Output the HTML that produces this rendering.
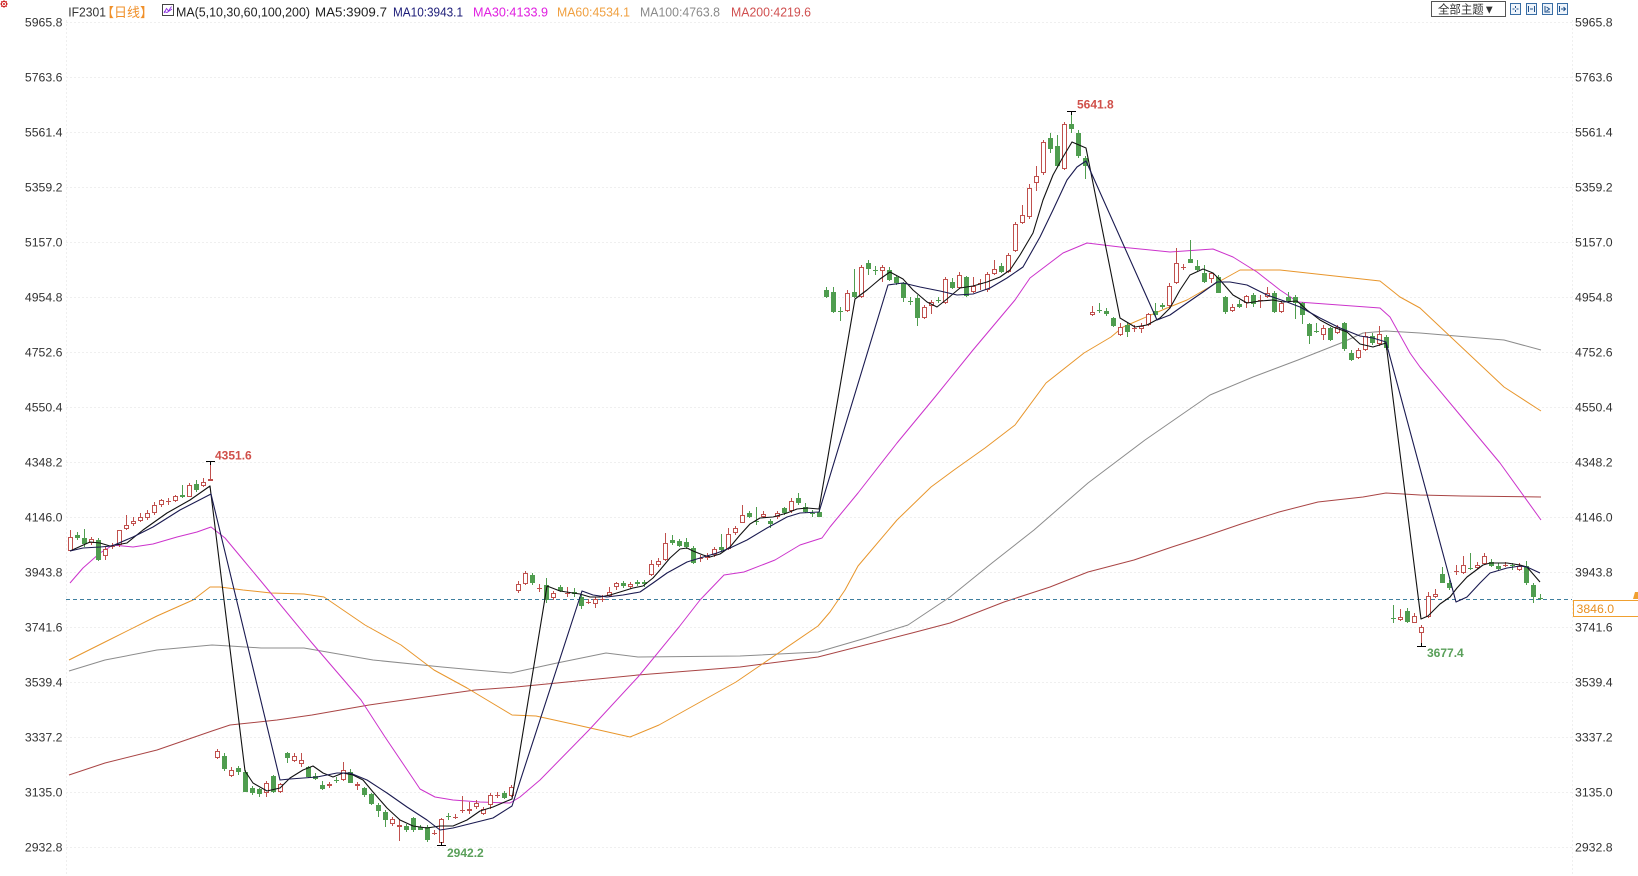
<!DOCTYPE html>
<html><head><meta charset="utf-8"><style>
html,body{margin:0;padding:0;background:#fff;width:1638px;height:876px;overflow:hidden}
svg{display:block}
text{font-family:"Liberation Sans","Noto Sans CJK SC",sans-serif}
</style></head><body>
<svg width="1638" height="876" viewBox="0 0 1638 876" xmlns="http://www.w3.org/2000/svg">
<rect width="1638" height="876" fill="#fff"/>
<g stroke="#efefef" stroke-width="1" stroke-dasharray="2 2" fill="none">
<path d="M66 22.5H1572M66 77.5H1572M66 132.5H1572M66 187.5H1572M66 242.5H1572M66 297.5H1572M66 352.5H1572M66 407.5H1572M66 462.5H1572M66 517.5H1572M66 572.5H1572M66 627.5H1572M66 682.5H1572M66 737.5H1572M66 792.5H1572M66 847.5H1572M66.5 20V876M1572.5 20V876"/>
</g>
<g font-size="12.3" fill="#333" text-anchor="end">
<text x="62.5" y="26.7">5965.8</text><text x="62.5" y="81.7">5763.6</text><text x="62.5" y="136.7">5561.4</text><text x="62.5" y="191.7">5359.2</text><text x="62.5" y="246.7">5157.0</text><text x="62.5" y="301.7">4954.8</text><text x="62.5" y="356.7">4752.6</text><text x="62.5" y="411.7">4550.4</text><text x="62.5" y="466.7">4348.2</text><text x="62.5" y="521.7">4146.0</text><text x="62.5" y="576.7">3943.8</text><text x="62.5" y="631.7">3741.6</text><text x="62.5" y="686.7">3539.4</text><text x="62.5" y="741.7">3337.2</text><text x="62.5" y="796.7">3135.0</text><text x="62.5" y="851.7">2932.8</text>
</g>
<g font-size="12.3" fill="#333">
<text x="1575" y="26.7">5965.8</text><text x="1575" y="81.7">5763.6</text><text x="1575" y="136.7">5561.4</text><text x="1575" y="191.7">5359.2</text><text x="1575" y="246.7">5157.0</text><text x="1575" y="301.7">4954.8</text><text x="1575" y="356.7">4752.6</text><text x="1575" y="411.7">4550.4</text><text x="1575" y="466.7">4348.2</text><text x="1575" y="521.7">4146.0</text><text x="1575" y="576.7">3943.8</text><text x="1575" y="631.7">3741.6</text><text x="1575" y="686.7">3539.4</text><text x="1575" y="741.7">3337.2</text><text x="1575" y="796.7">3135.0</text><text x="1575" y="851.7">2932.8</text>
</g>
<!-- header -->
<g>
<circle cx="4" cy="4" r="2.6" fill="none" stroke="#d02020" stroke-width="1.2"/>
<circle cx="4" cy="4" r="1" fill="#d02020"/>
<path d="M4 0V0.8M4 7.2V8M0 4H0.8M7.2 4H8M1.2 1.2L1.8 1.8M6.8 1.2L6.2 1.8M1.2 6.8L1.8 6.2M6.8 6.8L6.2 6.2" stroke="#d02020" stroke-width="0.8"/>
<text x="68.3" y="16.7" font-size="12.5" fill="#333" textLength="37.7" lengthAdjust="spacingAndGlyphs">IF2301</text>
<text x="101" y="17" font-size="13" fill="#f0902a" textLength="52" lengthAdjust="spacingAndGlyphs">【日线】</text>
<rect x="162.5" y="4.5" width="11" height="11" fill="#fff" stroke="#444" stroke-width="1"/>
<path d="M164 13L166.5 8.5L168.5 11L171.5 6.5M164 11.5L167 12.5L172 9" stroke="#8a2be2" stroke-width="0.9" fill="none"/>
<text x="176" y="16.7" font-size="13" fill="#222" textLength="134" lengthAdjust="spacingAndGlyphs">MA(5,10,30,60,100,200)</text>
<text x="315" y="16.7" font-size="13" fill="#222" textLength="72" lengthAdjust="spacingAndGlyphs">MA5:3909.7</text>
<text x="393" y="16.7" font-size="13" fill="#1c1c78" textLength="70" lengthAdjust="spacingAndGlyphs">MA10:3943.1</text>
<text x="473" y="16.7" font-size="13" fill="#e020e0" textLength="75" lengthAdjust="spacingAndGlyphs">MA30:4133.9</text>
<text x="557" y="16.7" font-size="13" fill="#f0a040" textLength="73" lengthAdjust="spacingAndGlyphs">MA60:4534.1</text>
<text x="640" y="16.7" font-size="13" fill="#8a8a8a" textLength="80" lengthAdjust="spacingAndGlyphs">MA100:4763.8</text>
<text x="731" y="16.7" font-size="13" fill="#d05050" textLength="80" lengthAdjust="spacingAndGlyphs">MA200:4219.6</text>
<rect x="1431.5" y="1.5" width="74" height="15" fill="#fff" stroke="#555"/>
<text x="1438" y="13.5" font-size="12" fill="#333" textLength="57" lengthAdjust="spacingAndGlyphs">全部主题▼</text>
<g fill="#eef4fb" stroke="#3a6ea5" stroke-width="1">
<rect x="1510.5" y="3.5" width="10" height="11"/><rect x="1526.5" y="3.5" width="10" height="11"/><rect x="1542.5" y="3.5" width="10" height="11"/><rect x="1557.5" y="3.5" width="10" height="11"/>
</g>
<path d="M1515.5 6V8M1515.5 10V12M1512.5 9H1514.5M1516.5 9H1518.5M1528.5 6V12M1534.5 6V12M1530 9H1533M1545 6V12H1550M1546.5 7L1549.5 9L1546.5 11M1559.5 6V12M1561 9H1565.5M1563.5 7L1565.5 9L1563.5 11" stroke="#1d4f8a" stroke-width="1" fill="none"/>
</g>
<!-- long MAs -->
<g fill="none" stroke-width="1" stroke-linejoin="round">
<polyline stroke="#a94545" points="69,775 105,763 157,750 212,731 230,725 277,720 312,715 369,705 475,690 516,687 638,675 740,667 818,657 912,633 950,623 1004,602 1050,587 1088,572 1134,560 1172,547 1203,537 1241,524 1279,512 1318,502 1363,497 1386,493 1420,495 1462,496 1541,497"/>
<polyline stroke="#8c8c8c" points="69,671 105,660 157,650 212,645 230,646 261,648 304,648 373,660 442,667 475,670 511,673 557,663 606,653 638,657 740,656 818,652 866,638 908,625 950,597 992,563 1034,530 1088,483 1145,440 1210,395 1253,377 1298,360 1341,343 1363,333 1386,331 1420,333 1504,340 1541,350"/>
<polyline stroke="#e8962c" points="69,660 105,642 157,616 193,600 210,587 220,587 243,590 271,593 304,594 324,597 365,625 401,645 434,670 467,688 512,715 536,716 577,725 630,737 659,725 736,682 818,626 830,612 845,590 858,566 897,520 931,487 954,470 985,448 1015,425 1046,383 1084,353 1111,337 1123,327 1167,308 1187,300 1213,285 1240,270 1280,270 1380,281 1400,297 1420,308 1504,387 1541,411"/>
<polyline stroke="#cc33cc" points="70,583 83,568 100,553 113,545 133,547 153,544 177,537 197,532 211,527 225,538 240,556 260,580 312,643 361,700 385,737 414,780 420,789 435,797 453,800 480,802 510,803 520,797 540,780 589,730 638,677 679,627 700,600 724,575 744,572 775,560 800,545 822,538 830,527 858,493 897,443 935,397 973,350 1015,300 1030,278 1063,253 1087,243 1120,247 1170,252 1213,249 1233,257 1257,272 1280,290 1298,302 1380,308 1390,317 1410,353 1420,367 1460,415 1500,463 1541,520"/>
</g>
<!-- current price dashed -->
<path d="M66 599.5H1572" stroke="#3f7f9f" stroke-width="1" stroke-dasharray="4 3"/>
<!-- candles -->
<g fill="none" stroke-width="1" shape-rendering="crispEdges">
<path stroke="#c0504d" d="M70.5 530V551M91.5 537V545M105.5 547V560M119.5 530V547M126.5 515V530M133.5 517V526M140.5 513V522M147.5 510V520M154.5 502V515M161.5 499V507M175.5 495V502M189.5 483V497M203.5 478V487M210.5 461V481M112.5 543V549M110 546.5h5M168.5 498V505M166 501.5h5
M217.5 749V759M231.5 767V777M266.5 781V797M280.5 783V793M294.5 753V762M301.5 753V767M329.5 782V788M343.5 762V781M357.5 782V790M392.5 817V826M399.5 819V841M441.5 818V845M469.5 802V814M476.5 800V809M483.5 807V815M490.5 793V809M511.5 785V797M434.5 830V835M432 833.5h5M455.5 814V819M453 817.5h5M462.5 796V813M460 810.5h5M497.5 792V798M495 795.5h5
M518.5 581V593M525.5 571V585M553.5 591V600M595.5 597V608M609.5 587V597M616.5 582V590M630.5 582V589M651.5 560V576M658.5 558V567M665.5 533V561M707.5 553V560M714.5 547V557M728.5 528V550M735.5 526V535M742.5 505V523M763.5 511V518M777.5 511V519M791.5 498V513M539.5 584V592M537 588.5h5M567.5 587V597M565 593.5h5M588.5 599V604M586 602.5h5M602.5 595V602M600 599.5h5M700.5 555V562M698 558.5h5
M847.5 290V312M861.5 265V298M882.5 265V282M924.5 305V319M931.5 300V314M945.5 277V304M959.5 272V289M973.5 277V293M987.5 272V292M994.5 260V275M1008.5 253V273M1015.5 222V252M1022.5 205V224M1029.5 184V219M1036.5 166V191M1043.5 140V175M1064.5 122V170M980.5 279V290M978 283.5h5
M1092.5 306V316M1120.5 323V336M1141.5 323V333M1148.5 313V326M1169.5 283V308M1176.5 248V284M1211.5 272V283M1232.5 304V312M1246.5 295V308M1267.5 287V298M1281.5 301V313M1323.5 325V340M1337.5 325V334M1358.5 348V359M1365.5 332V351M1379.5 326V346M1134.5 325V332M1132 328.5h5M1183.5 264V270M1181 267.5h5M1260.5 295V308M1258 300.5h5
M1400.5 609V621M1414.5 613V623M1421.5 625V646M1428.5 592V618M1435.5 589V598M1463.5 556V574M1477.5 562V569M1484.5 553V565M1519.5 563V571M1456.5 565V575M1454 571.5h5M1505.5 562V567M1503 565.5h5"/>
<path stroke="#4f9d4f" d="M77.5 532V540M84.5 529V547M98.5 538V561M182.5 485V498M196.5 480V492
M224.5 753V771M238.5 766V775M245.5 770V792M252.5 786V795M259.5 788V797M273.5 775V793M287.5 752V763M308.5 766V778M315.5 773V780M322.5 781V790M350.5 769V783M364.5 787V797M371.5 793V805M378.5 803V817M385.5 810V827M406.5 824V832M413.5 817V832M420.5 825V830M427.5 825V842M504.5 791V799M336.5 777V783M334 780.5h5M448.5 813V820M446 816.5h5
M532.5 573V585M546.5 578V603M560.5 585V592M574.5 588V597M581.5 595V609M623.5 581V588M637.5 580V586M644.5 580V587M672.5 535V545M679.5 539V547M686.5 538V549M693.5 546V564M721.5 534V552M749.5 511V518M770.5 519V528M784.5 507V515M798.5 493V505M805.5 503V513M819.5 509V517M756.5 507V525M754 521.5h5M812.5 510V517M810 513.5h5
M826.5 287V298M833.5 287V313M854.5 269V298M868.5 260V275M889.5 267V281M896.5 275V285M903.5 282V302M917.5 295V326M952.5 278V289M966.5 276V297M1001.5 263V273M1050.5 133V153M1057.5 135V167M1071.5 111V133M1078.5 130V158M1085.5 156V179M840.5 307V321M838 311.5h5M875.5 266V275M873 270.5h5M910.5 297V305M908 301.5h5M938.5 297V303M936 300.5h5
M1106.5 308V316M1113.5 317V327M1127.5 323V337M1155.5 303V317M1162.5 303V309M1190.5 240V263M1197.5 260V271M1204.5 265V283M1218.5 275V293M1225.5 296V314M1239.5 300V308M1253.5 293V307M1274.5 291V313M1288.5 292V303M1295.5 295V319M1302.5 302V324M1309.5 323V344M1330.5 327V341M1344.5 322V351M1351.5 350V361M1372.5 333V345M1386.5 335V350M1099.5 303V313M1097 310.5h5M1316.5 323V333M1314 331.5h5
M1407.5 608V623M1442.5 567V583M1449.5 580V590M1491.5 559V567M1498.5 563V571M1526.5 561V585M1533.5 583V603M1393.5 605V623M1391 618.5h5M1470.5 553V570M1468 568.5h5M1512.5 563V570M1510 565.5h5M1540.5 594V600M1538 598.5h5"/>
<path fill="#fff" stroke="#c0504d" d="M68.5 537.5h4v13h-4zM89.5 539.5h4v3h-4zM103.5 549.5h4v6h-4zM117.5 530.5h4v14h-4zM124.5 525.5h4v3h-4zM131.5 521.5h4v2h-4zM138.5 517.5h4v3h-4zM145.5 513.5h4v4h-4zM152.5 505.5h4v7h-4zM159.5 500.5h4v4h-4zM173.5 496.5h4v4h-4zM187.5 485.5h4v11h-4zM201.5 482.5h4v3h-4zM208.5 479.5h4v1h-4z
M215.5 751.5h4v6h-4zM229.5 770.5h4v5h-4zM264.5 783.5h4v9h-4zM278.5 784.5h4v7h-4zM292.5 756.5h4v4h-4zM299.5 760.5h4v3h-4zM327.5 784.5h4v1h-4zM341.5 770.5h4v9h-4zM355.5 784.5h4v1h-4zM390.5 819.5h4v4h-4zM397.5 825.5h4v1h-4zM439.5 819.5h4v23h-4zM467.5 809.5h4v1h-4zM474.5 803.5h4v3h-4zM481.5 809.5h4v4h-4zM488.5 795.5h4v9h-4zM509.5 787.5h4v8h-4z
M516.5 584.5h4v6h-4zM523.5 573.5h4v10h-4zM551.5 593.5h4v4h-4zM593.5 599.5h4v4h-4zM607.5 592.5h4v3h-4zM614.5 583.5h4v3h-4zM628.5 584.5h4v2h-4zM649.5 564.5h4v10h-4zM656.5 561.5h4v3h-4zM663.5 543.5h4v16h-4zM705.5 556.5h4v1h-4zM712.5 549.5h4v5h-4zM726.5 534.5h4v14h-4zM733.5 528.5h4v4h-4zM740.5 515.5h4v7h-4zM761.5 514.5h4v2h-4zM775.5 513.5h4v3h-4zM789.5 501.5h4v9h-4z
M845.5 293.5h4v17h-4zM859.5 267.5h4v29h-4zM880.5 267.5h4v3h-4zM922.5 307.5h4v10h-4zM929.5 302.5h4v3h-4zM943.5 279.5h4v23h-4zM957.5 275.5h4v12h-4zM971.5 286.5h4v5h-4zM985.5 274.5h4v15h-4zM992.5 269.5h4v4h-4zM1006.5 255.5h4v16h-4zM1013.5 224.5h4v26h-4zM1020.5 215.5h4v7h-4zM1027.5 188.5h4v28h-4zM1034.5 176.5h4v6h-4zM1041.5 142.5h4v30h-4zM1062.5 124.5h4v44h-4z
M1090.5 312.5h4v2h-4zM1118.5 327.5h4v7h-4zM1139.5 326.5h4v2h-4zM1146.5 314.5h4v10h-4zM1167.5 286.5h4v19h-4zM1174.5 263.5h4v19h-4zM1209.5 273.5h4v5h-4zM1230.5 307.5h4v3h-4zM1244.5 296.5h4v6h-4zM1265.5 293.5h4v3h-4zM1279.5 303.5h4v8h-4zM1321.5 328.5h4v6h-4zM1335.5 327.5h4v5h-4zM1356.5 350.5h4v7h-4zM1363.5 336.5h4v13h-4zM1377.5 334.5h4v9h-4z
M1398.5 617.5h4v2h-4zM1412.5 616.5h4v6h-4zM1419.5 627.5h4v5h-4zM1426.5 596.5h4v20h-4zM1433.5 594.5h4v2h-4zM1461.5 565.5h4v7h-4zM1475.5 565.5h4v2h-4zM1482.5 556.5h4v7h-4zM1517.5 566.5h4v3h-4z"/>
<path fill="#4f9d4f" stroke="none" d="M75 535h5v3h-5zM82 538h5v6h-5zM96 540h5v20h-5zM180 495h5v2h-5zM194 484h5v6h-5z
M222 756h5v13h-5zM236 768h5v4h-5zM243 772h5v20h-5zM250 788h5v5h-5zM257 789h5v5h-5zM271 776h5v16h-5zM285 753h5v5h-5zM306 767h5v10h-5zM313 776h5v3h-5zM320 785h5v4h-5zM348 772h5v11h-5zM362 788h5v7h-5zM369 794h5v10h-5zM376 805h5v6h-5zM383 812h5v8h-5zM404 826h5v4h-5zM411 818h5v12h-5zM418 827h5v3h-5zM425 827h5v13h-5zM502 793h5v5h-5z
M530 575h5v8h-5zM544 585h5v15h-5zM558 587h5v4h-5zM572 592h5v2h-5zM579 597h5v9h-5zM621 583h5v3h-5zM635 582h5v2h-5zM642 582h5v2h-5zM670 540h5v3h-5zM677 541h5v5h-5zM684 542h5v5h-5zM691 548h5v15h-5zM719 547h5v3h-5zM747 513h5v4h-5zM768 521h5v3h-5zM782 508h5v5h-5zM796 498h5v5h-5zM803 507h5v5h-5zM817 512h5v5h-5z
M824 290h5v7h-5zM831 292h5v20h-5zM852 292h5v5h-5zM866 263h5v6h-5zM887 270h5v10h-5zM894 277h5v6h-5zM901 283h5v15h-5zM915 298h5v20h-5zM950 282h5v6h-5zM964 277h5v19h-5zM999 266h5v6h-5zM1048 138h5v11h-5zM1055 146h5v20h-5zM1069 124h5v5h-5zM1076 133h5v23h-5zM1083 158h5v8h-5z
M1104 311h5v3h-5zM1111 318h5v8h-5zM1125 325h5v7h-5zM1153 311h5v4h-5zM1160 305h5v2h-5zM1188 259h5v4h-5zM1195 266h5v4h-5zM1202 273h5v9h-5zM1216 277h5v16h-5zM1223 297h5v15h-5zM1237 304h5v3h-5zM1251 295h5v9h-5zM1272 293h5v19h-5zM1286 297h5v4h-5zM1293 297h5v6h-5zM1300 303h5v12h-5zM1307 324h5v12h-5zM1328 328h5v12h-5zM1342 323h5v26h-5zM1349 353h5v7h-5zM1370 336h5v7h-5zM1384 337h5v11h-5z
M1405 611h5v11h-5zM1440 574h5v9h-5zM1447 583h5v5h-5zM1489 562h5v4h-5zM1496 566h5v3h-5zM1524 566h5v17h-5zM1531 585h5v12h-5z"/>
<path stroke="#000" d="M206 461.5h9M210.5 461V465M1067 111.5h9M1071.5 111V115M437 845.5h9M441.5 842V846M1417 646.5h9M1421.5 643V647"/>
</g>
<!-- MA5 / MA10 -->
<g fill="none" stroke-width="1.1" stroke-linejoin="round">
<polyline stroke="#111" points="70,551 90,542 100,543 110,546 127,543 143,530 167,513 190,500 210,486 245,771 253,783 267,791 280,788 290,778 303,770 313,766 323,773 333,777 343,773 353,775 363,780 373,792 387,808 400,820 413,826 427,828 440,826 453,826 467,820 480,811 493,807 507,801 512,799 547,586 560,591 573,593 580,594 590,597 600,597 610,595 620,592 633,588 643,586 653,578 660,570 670,558 680,549 687,548 693,551 703,555 710,557 720,554 730,547 740,535 750,524 760,518 773,517 787,513 797,509 807,508 819,509 855,299 867,290 880,279 890,272 903,279 913,290 927,302 937,307 947,299 960,288 973,286 987,282 1000,277 1010,270 1020,255 1033,233 1043,200 1053,175 1063,157 1072,142 1086,148 1120,318 1135,327 1147,325 1160,318 1170,308 1180,290 1190,275 1203,269 1213,273 1220,280 1233,295 1247,303 1260,301 1273,300 1283,302 1297,301 1307,310 1320,320 1333,327 1347,332 1360,344 1373,347 1386,343 1421,619 1428,616 1440,604 1450,597 1457,588 1467,577 1483,565 1490,563 1507,563 1520,565 1527,567 1540,582"/>
<polyline stroke="#1a1a50" points="70,551 83,548 100,547 112,546 133,537 153,527 180,510 211,494 280,780 290,779 317,777 337,773 350,773 367,780 387,793 407,807 427,820 440,830 453,828 473,823 493,818 512,806 582,591 593,595 607,597 623,595 640,592 653,583 667,573 687,562 700,558 717,553 730,548 747,540 767,528 787,517 800,513 819,512 888,285 903,283 920,287 940,291 957,295 973,294 990,288 1007,278 1023,267 1040,237 1053,210 1067,180 1077,167 1086,161 1157,320 1170,315 1187,303 1203,292 1217,282 1230,282 1247,285 1267,295 1287,302 1300,307 1320,318 1340,328 1360,336 1373,338 1386,342 1456,602 1467,597 1480,583 1490,573 1507,568 1520,566 1527,567 1540,573"/>
</g>
<!-- annotations -->
<g font-size="12" font-weight="bold">
<text x="215" y="459.3" fill="#d0504a">4351.6</text>
<text x="1077" y="108.3" fill="#d0504a">5641.8</text>
<text x="447" y="856.8" fill="#5aa05a">2942.2</text>
<text x="1427" y="657" fill="#5aa05a">3677.4</text>
</g>
<!-- price box -->
<rect x="1573.5" y="600.5" width="70" height="16" fill="#fff" stroke="#f0a030"/>
<text x="1576.5" y="613" font-size="12.3" fill="#e89020">3846.0</text>
<polygon points="1633,599 1635,592 1638,592 1638,599" fill="#f0a030"/>
</svg>
</body></html>
